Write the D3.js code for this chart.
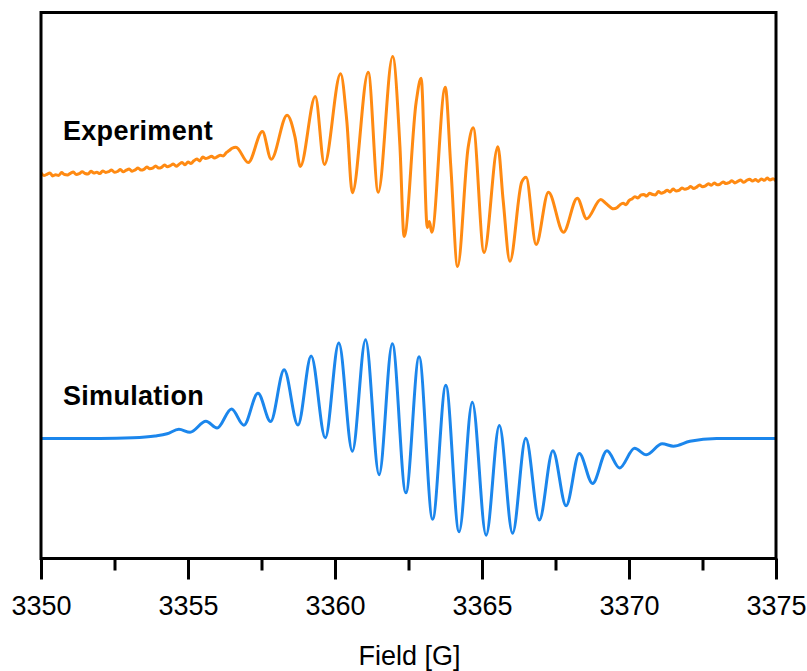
<!DOCTYPE html>
<html>
<head>
<meta charset="utf-8">
<script src="https://cdn.jsdelivr.net/npm/d3@7/dist/d3.min.js"></script>
<style>
  html, body { margin: 0; padding: 0; background: #ffffff; }
  svg { display: block; }
  text { font-family: "Liberation Sans", Arial, Helvetica, sans-serif; }
</style>
</head>
<body>
<svg id="chart" width="807" height="671"></svg>
<script>
// EPR spectrum: measured trace (top) and simulated trace (bottom), intensity in arbitrary units

const majorTicks = [3350, 3355, 3360, 3365, 3370, 3375];
const minorTicks = [3352.5, 3357.5, 3362.5, 3367.5, 3372.5];

const seriesLabels = ["Experiment", "Simulation"];
const axisTitle = "Field [G]";

// Measured spectrum: field (G)
const expField = [
  3350.0, 3350.1, 3350.2, 3350.3, 3350.4, 3350.5, 3350.6, 3350.7, 3350.8, 3350.9,
  3351.0, 3351.1, 3351.2, 3351.3, 3351.4, 3351.5, 3351.6, 3351.7, 3351.8, 3351.9,
  3352.0, 3352.1, 3352.2, 3352.3, 3352.4, 3352.5, 3352.6, 3352.7, 3352.8, 3352.9,
  3353.0, 3353.1, 3353.2, 3353.3, 3353.4, 3353.5, 3353.6, 3353.7, 3353.8, 3353.9,
  3354.0, 3354.1, 3354.2, 3354.3, 3354.4, 3354.5, 3354.6, 3354.7, 3354.8, 3354.9,
  3355.0, 3355.1, 3355.2, 3355.3, 3355.4, 3355.5, 3355.6, 3355.7, 3355.8, 3355.9,
  3356.0, 3356.1, 3356.2, 3356.3, 3356.4, 3356.5,
  3356.63, 3357.05, 3357.53, 3357.83, 3358.37, 3358.64, 3358.82, 3359.33, 3359.64,
  3360.19, 3360.40, 3360.59, 3361.13, 3361.47, 3361.96, 3362.21, 3362.35, 3362.76,
  3362.93, 3363.14, 3363.21, 3363.29, 3363.75, 3363.94, 3364.17, 3364.53, 3364.70,
  3365.07, 3365.54, 3365.72, 3365.95, 3366.35, 3366.50, 3366.84, 3367.26, 3367.77,
  3368.24, 3368.56, 3369.04, 3369.22, 3369.47,
  3369.6, 3369.7, 3369.8, 3369.9, 3370.0, 3370.1, 3370.2, 3370.3, 3370.4, 3370.5,
  3370.6, 3370.7, 3370.8, 3370.9, 3371.0, 3371.1, 3371.2, 3371.3, 3371.4, 3371.5,
  3371.6, 3371.7, 3371.8, 3371.9, 3372.0, 3372.1, 3372.2, 3372.3, 3372.4, 3372.5,
  3372.6, 3372.7, 3372.8, 3372.9, 3373.0, 3373.1, 3373.2, 3373.3, 3373.4, 3373.5,
  3373.6, 3373.7, 3373.8, 3373.9, 3374.0, 3374.1, 3374.2, 3374.3, 3374.4, 3374.5,
  3374.6, 3374.7, 3374.8, 3374.9, 3375.0
];

// Measured spectrum: signal (a.u.)
const expSignal = [
  385.5, 383.0, 384.2, 385.6, 382.6, 383.8, 383.1, 385.9, 384.0, 383.6,
  385.2, 386.4, 383.9, 384.8, 386.7, 385.0, 384.5, 387.3, 385.4, 386.2,
  384.9, 387.6, 386.1, 386.8, 388.5, 386.2, 387.0, 388.9, 386.7, 388.3,
  389.4, 387.3, 388.6, 390.5, 388.4, 389.1, 391.6, 389.8, 390.4, 392.6,
  390.5, 391.2, 393.5, 391.8, 392.9, 394.6, 392.2, 394.3, 395.9, 393.8,
  396.4, 395.0, 397.7, 399.4, 397.6, 401.5, 400.0, 400.9, 402.3, 400.4,
  401.8, 403.3, 402.6, 405.8, 408.0, 410.2,
  411.3, 396.0, 427.0, 399.2, 443.3, 421.3, 392.0, 462.0, 394.0,
  484.7, 438.0, 365.7, 486.3, 366.3, 502.0, 411.3, 322.0, 456.3,
  480.2, 331.0, 337.0, 326.3, 471.3, 391.3, 292.0, 411.3, 430.7,
  306.0, 411.7, 358.0, 297.3, 376.3, 381.3, 314.0, 366.3, 326.3,
  360.3, 339.7, 359.0, 355.0, 349.7,
  351.0, 353.9, 355.2, 353.8, 357.9, 359.6, 361.8, 360.5, 363.4, 364.1,
  362.4, 365.3, 364.0, 363.6, 366.9, 365.2, 366.4, 368.3, 366.6, 369.5,
  367.5, 368.1, 370.6, 369.2, 370.1, 372.0, 369.9, 371.4, 373.5, 371.8,
  372.6, 374.8, 373.2, 375.5, 373.7, 374.4, 376.6, 374.9, 375.8, 377.7,
  375.6, 377.1, 378.4, 376.2, 378.0, 379.3, 377.4, 378.9, 377.1, 379.6,
  378.2, 380.4, 378.5, 379.7, 377.5
];

// Simulated spectrum: field (G)
const simField = [
  3350.00, 3352.01, 3353.13, 3353.88, 3354.29, 3354.69, 3355.07, 3355.61, 3355.99,
  3356.48, 3356.90, 3357.38, 3357.81, 3358.27, 3358.74, 3359.19, 3359.67, 3360.13,
  3360.59, 3361.04, 3361.50, 3361.95, 3362.41, 3362.86, 3363.32, 3363.77, 3364.22,
  3364.67, 3365.14, 3365.59, 3366.04, 3366.49, 3366.95, 3367.41, 3367.86, 3368.31,
  3368.76, 3369.25, 3369.68, 3370.19, 3370.59, 3371.13, 3371.51, 3372.07, 3372.98,
  3375.00
];

// Simulated spectrum: signal (a.u.)
const simSignal = [
  120.0, 120.0, 120.7, 122.5, 124.7, 129.2, 126.2, 137.2, 130.5,
  149.5, 133.3, 165.3, 137.0, 188.7, 133.5, 202.5, 120.7, 215.5,
  107.2, 218.8, 83.8, 214.7, 65.7, 201.7, 39.2, 173.3, 26.7,
  156.3, 23.3, 133.0, 25.3, 120.2, 38.5, 107.7, 52.7, 105.0,
  75.0, 107.7, 90.5, 110.2, 103.7, 114.7, 112.3, 117.3, 120.0,
  120.0
];

const colors = { experiment: "#ff8a12", simulation: "#1b86ec" };

const svg = d3.select("#chart");
const plot = { left: 41, right: 776, top: 12.5, bottom: 558.5 };

const x = d3.scaleLinear().domain([3350, 3375]).range([plot.left, plot.right]);
const y = d3.scaleLinear().domain([0, 546]).range([plot.bottom, plot.top]);

const line = d3.line()
  .x(d => x(d[0]))
  .y(d => y(d[1]))
  .curve(d3.curveMonotoneX);

const expData = expField.map((f, i) => [f, expSignal[i]]);
const simData = simField.map((f, i) => [f, simSignal[i]]);

svg.append("path")
  .datum(expData)
  .attr("d", line)
  .attr("fill", "none")
  .attr("stroke", colors.experiment)
  .attr("stroke-width", 3)
  .attr("stroke-linejoin", "round");

svg.append("path")
  .datum(simData)
  .attr("d", line)
  .attr("fill", "none")
  .attr("stroke", colors.simulation)
  .attr("stroke-width", 3)
  .attr("stroke-linejoin", "round");

// Frame around the plotting area
svg.append("rect")
  .attr("x", plot.left)
  .attr("y", plot.top)
  .attr("width", plot.right - plot.left)
  .attr("height", plot.bottom - plot.top)
  .attr("fill", "none")
  .attr("stroke", "#000")
  .attr("stroke-width", 3);

// Bottom axis: major ticks with labels, minor ticks without
const majorAxis = d3.axisBottom(x)
  .tickValues(majorTicks)
  .tickFormat(d3.format("d"))
  .tickSize(21)
  .tickSizeOuter(0)
  .tickPadding(16);

const gMajor = svg.append("g")
  .attr("transform", `translate(0,${plot.bottom})`)
  .call(majorAxis);
gMajor.select(".domain").remove();
gMajor.selectAll(".tick line").attr("stroke", "#000").attr("stroke-width", 3);
gMajor.selectAll(".tick text")
  .attr("font-size", 27)
  .attr("fill", "#000")
  .style("font-family", "'Liberation Sans', Arial, sans-serif");

const minorAxis = d3.axisBottom(x)
  .tickValues(minorTicks)
  .tickFormat("")
  .tickSize(12)
  .tickSizeOuter(0);

const gMinor = svg.append("g")
  .attr("transform", `translate(0,${plot.bottom})`)
  .call(minorAxis);
gMinor.select(".domain").remove();
gMinor.selectAll(".tick line").attr("stroke", "#000").attr("stroke-width", 3);

// Axis title
svg.append("text")
  .attr("x", (plot.left + plot.right) / 2 + 1)
  .attr("y", 665)
  .attr("text-anchor", "middle")
  .attr("font-size", 27)
  .attr("fill", "#000")
  .text(axisTitle);

// Trace labels
const labelY = [139.5, 405];
svg.selectAll("text.series-label")
  .data(seriesLabels)
  .join("text")
  .attr("class", "series-label")
  .attr("x", 63)
  .attr("y", (d, i) => labelY[i])
  .attr("font-size", 27)
  .attr("font-weight", "bold")
  .attr("letter-spacing", 0.3)
  .attr("fill", "#000")
  .text(d => d);
</script>
</body>
</html>
